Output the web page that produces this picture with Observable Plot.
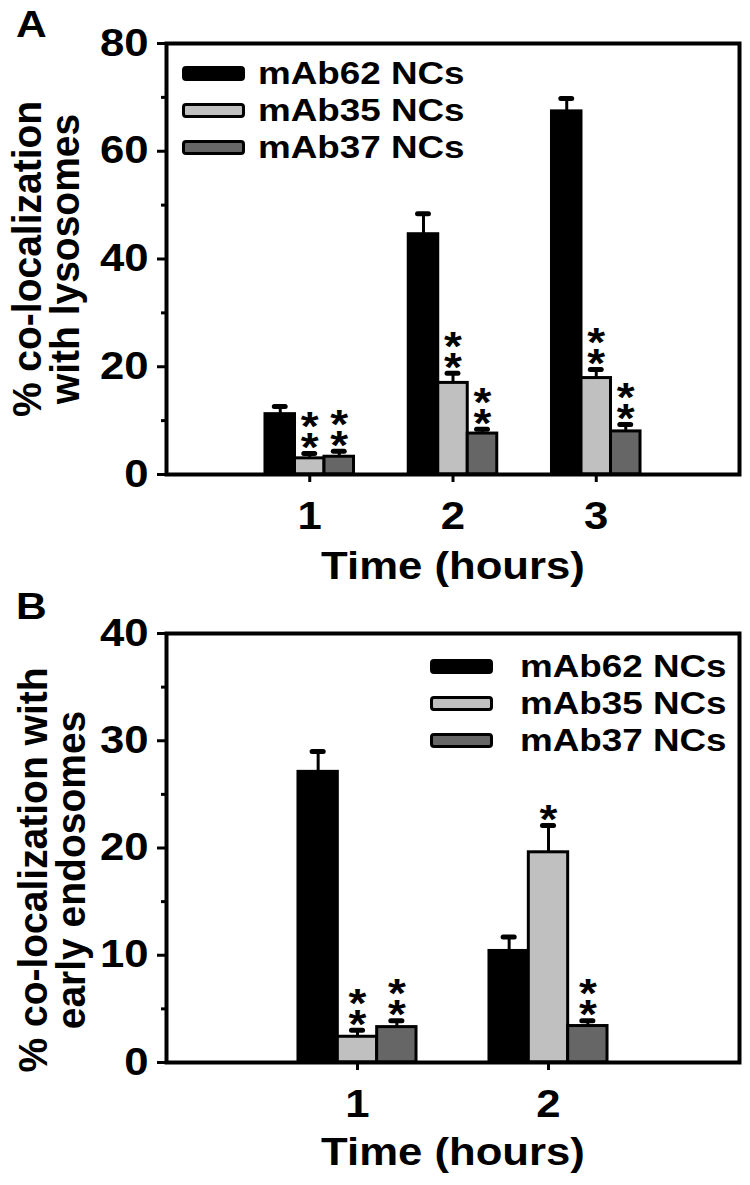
<!DOCTYPE html>
<html><head><meta charset="utf-8">
<script src="https://cdn.jsdelivr.net/npm/d3@7"></script>
<script src="https://cdn.jsdelivr.net/npm/@observablehq/plot@0.6"></script>
<style>
body{margin:0;background:#fff;}
#wrap{position:relative;width:750px;height:1185px;overflow:hidden;background:#fff;font-family:"Liberation Sans",Arial,sans-serif;color:#000;}
.panel{position:absolute;left:0;}
.row{position:absolute;display:flex;align-items:center;white-space:nowrap;height:36px;}
.sw{display:inline-block;box-sizing:border-box;width:63px;height:15px;border:3px solid #000;border-radius:4px;flex:none;}
.lt{font-weight:bold;font-size:32px;line-height:1;display:inline-block;transform:scaleX(1.15);transform-origin:left center;}
.tag{position:absolute;font-weight:bold;font-size:37px;line-height:1;transform:scaleX(1.15);transform-origin:left top;}
</style></head><body><div id="wrap"></div>
<script>
// ---------- shared ----------
const seriesNames = ["mAb62 NCs", "mAb35 NCs", "mAb37 NCs"];
const seriesColors = ["#000000", "#c0c0c0", "#666666"];

// ---------- Panel A: co-localization with lysosomes ----------
const lysoTimes = [1, 2, 3];
const lyso62 = [11.2, 44.6, 67.4];
const lyso62Err = [1.4, 3.8, 2.4];
const lyso35 = [3.0, 17.0, 17.9];
const lyso35Err = [0.9, 1.8, 1.6];
const lyso37 = [3.3, 7.6, 8.0];
const lyso37Err = [1.0, 0.8, 1.3];
const lyso62Stars = ["", "", ""];
const lyso35Stars = ["**", "**", "**"];
const lyso37Stars = ["**", "**", "**"];
const lysoYTicks = [0, 20, 40, 60, 80];
const lysoYMinor = [10, 30, 50, 70];
const lysoLabel = "% co-localization\nwith lysosomes";

// ---------- Panel B: co-localization with early endosomes ----------
const endoTimes = [1, 2];
const endo62 = [27.1, 10.4];
const endo62Err = [1.9, 1.3];
const endo35 = [2.4, 19.6];
const endo35Err = [0.6, 2.5];
const endo37 = [3.3, 3.4];
const endo37Err = [0.6, 0.5];
const endo62Stars = ["", ""];
const endo35Stars = ["**", "*"];
const endo37Stars = ["**", "**"];
const endoYTicks = [0, 10, 20, 30, 40];
const endoYMinor = [5, 15, 25, 35];
const endoLabel = "% co-localization with\nearly endosomes";

const xLabel = "Time (hours)";

function makeRows(times, means, errs, stars) {
  const out = [];
  times.forEach((t, i) => {
    means.forEach((m, s) => out.push({
      time: t, s, series: seriesNames[s], mean: m[i], err: errs[s][i], stars: stars[s][i]
    }));
  });
  return out;
}

const bw = 0.206; // bar width in time units
const FONT = "Liberation Sans, Arial, sans-serif";

function panel(o) {
  const data = o.data;
  const cx = d => d.time + (d.s - 1) * bw;
  const top = d => d.mean + d.err;
  return Plot.plot({
    width: 750, height: o.height,
    marginTop: o.marginTop, marginBottom: o.marginBottom, marginLeft: 166, marginRight: 11,
    style: {fontFamily: FONT, fontSize: "38px", color: "#000", background: "transparent", overflow: "visible"},
    x: {domain: o.xDomain},
    y: {domain: o.yDomain},
    color: {domain: seriesNames, range: seriesColors},
    marks: [
      Plot.ruleX(data, {x: cx, y1: "mean", y2: top, stroke: "#000", strokeWidth: 3}),
      Plot.ruleY(data, {x1: d => cx(d) - o.capHalf, x2: d => cx(d) + o.capHalf, y: top, stroke: "#000", strokeWidth: 5, strokeLinecap: "round"}),
      Plot.rectY(data, {x1: d => cx(d) - bw / 2, x2: d => cx(d) + bw / 2, y1: 0, y2: "mean", fill: "series", stroke: "#000", strokeWidth: 3}),
      Plot.text(data.filter(d => d.stars.length >= 1), {x: cx, y: top, text: d => d.stars[0],
        lineAnchor: "middle", dy: -5, fontSize: 40, fontWeight: "bold", fill: "#000"}),
      Plot.text(data.filter(d => d.stars.length >= 2), {x: cx, y: top, text: d => d.stars[1],
        lineAnchor: "middle", dy: -26, fontSize: 40, fontWeight: "bold", fill: "#000"}),
      Plot.axisY(o.yTicks, {tickSize: 9, tickPadding: 9, fontSize: 38, fontWeight: "bold", strokeWidth: 3, label: null, tickFormat: d => String(d)}),
      Plot.axisY(o.yMinor, {tickSize: 5, strokeWidth: 3, label: null, tickFormat: () => ""}),
      Plot.axisX(o.xTicks, {tickSize: 8, tickPadding: 20, fontSize: 38, fontWeight: "bold", strokeWidth: 3, label: null, tickFormat: d => String(d)}),
      Plot.frame({stroke: "#000", strokeWidth: 4}),
      Plot.text([o.yLabel], {frameAnchor: "left", rotate: -90, dx: o.labelDx, dy: o.labelDy, text: d => d,
        textAnchor: "middle", lineAnchor: "middle", lineHeight: 0.95, fontSize: 39, fontWeight: "bold", fill: "#000"}),
      Plot.text([xLabel], {frameAnchor: "bottom", dy: o.timeDy, text: d => d,
        textAnchor: "middle", lineAnchor: "bottom", fontSize: 38, fontWeight: "bold", fill: "#000"})
    ]
  });
}

function stretchText(svg, k, kRot) {
  svg.querySelectorAll("text").forEach(el => {
    let t = el.getAttribute("transform");
    if (t && t.includes("rotate(-90")) {
      el.setAttribute("transform", t + ` scale(1,${kRot})`);
    } else if (t) {
      el.setAttribute("transform", t + ` scale(${k},1)`);
    } else {
      const x = +el.getAttribute("x") || 0, y = +el.getAttribute("y") || 0;
      el.setAttribute("transform", `translate(${x},${y}) scale(${k},1) translate(${-x},${-y})`);
    }
  });
}

function legend(left, top0, step, gap) {
  const div = document.createElement("div");
  div.style.position = "absolute"; div.style.left = left + "px"; div.style.top = "0px";
  seriesNames.forEach((name, i) => {
    const row = document.createElement("div");
    row.className = "row";
    row.style.left = "0px";
    row.style.top = (top0 + i * step - 18) + "px";
    const sw = document.createElement("span");
    sw.className = "sw"; sw.style.background = seriesColors[i];
    const tx = document.createElement("span");
    tx.className = "lt"; tx.textContent = name; tx.style.marginLeft = gap + "px";
    row.append(sw, tx);
    div.append(row);
  });
  return div;
}

const wrap = document.getElementById("wrap");

// Panel A
const plotA = panel({
  data: makeRows(lysoTimes, [lyso62, lyso35, lyso37], [lyso62Err, lyso35Err, lyso37Err], [lyso62Stars, lyso35Stars, lyso37Stars]),
  xDomain: [0, 4], xTicks: lysoTimes, yDomain: [0, 80], yTicks: lysoYTicks, yMinor: lysoYMinor,
  height: 615, marginTop: 43, marginBottom: 141, yLabel: lysoLabel, labelDx: -119, labelDy: 0, capHalf: 0.038, timeDy: 104
});
plotA.classList.add("panel"); plotA.style.top = "0px";
wrap.append(plotA);

// Panel B
const plotB = panel({
  data: makeRows(endoTimes, [endo62, endo35, endo37], [endo62Err, endo35Err, endo37Err], [endo62Stars, endo35Stars, endo37Stars]),
  xDomain: [0, 3], xTicks: endoTimes, yDomain: [0, 40], yTicks: endoYTicks, yMinor: endoYMinor,
  height: 625, marginTop: 73, marginBottom: 123, yLabel: endoLabel, labelDx: -113, labelDy: 22, capHalf: 0.029, timeDy: 102
});
plotB.classList.add("panel"); plotB.style.top = "560px";
wrap.append(plotB);

stretchText(plotA, 1.15, 1.05);
stretchText(plotB, 1.15, 1.05);

// legends
wrap.append(legend(182, 73, 37, 13));
wrap.append(legend(430, 666, 37, 27));

// panel tags
const tagA = document.createElement("div"); tagA.className = "tag"; tagA.textContent = "A";
tagA.style.left = "16px"; tagA.style.top = "6px"; wrap.append(tagA);
const tagB = document.createElement("div"); tagB.className = "tag"; tagB.textContent = "B";
tagB.style.left = "16px"; tagB.style.top = "588px"; wrap.append(tagB);
</script></body></html>
